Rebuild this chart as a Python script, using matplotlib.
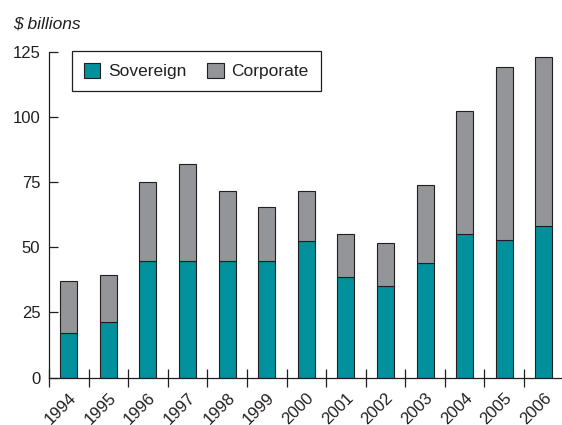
import matplotlib
matplotlib.use("Agg")
import matplotlib.pyplot as plt
import numpy as np

years = ["1994", "1995", "1996", "1997", "1998", "1999", "2000",
         "2001", "2002", "2003", "2004", "2005", "2006"]
sovereign = [17.2, 21.3, 44.8, 44.8, 44.7, 44.6, 52.3, 38.6, 35.0, 44.1, 55.2, 52.8, 58.1]
total = [37.1, 39.4, 75.0, 81.8, 71.7, 65.3, 71.4, 55.1, 51.5, 73.9, 102.4, 119.1, 122.9]
corporate = [t - s for t, s in zip(total, sovereign)]
yticks = [0, 25, 50, 75, 100, 125]

teal = "#00919c"
gray = "#939598"
dark = "#231f20"

plt.rcParams['font.family'] = ['Liberation Sans', 'DejaVu Sans']

fig = plt.figure(figsize=(5.62, 4.25), dpi=100)
ax = fig.add_axes([49 / 562, (425 - 377.5) / 425, 1 - 49 / 562, 325.8 / 425])

x = np.arange(len(years))
w = 0.43
ax.bar(x, sovereign, width=w, color=teal, edgecolor=dark, linewidth=0.8,
       label="Sovereign", zorder=2)
ax.bar(x, corporate, width=w, bottom=sovereign, color=gray, edgecolor=dark,
       linewidth=0.8, label="Corporate", zorder=2)

ax.set_xlim(-0.5, 12.46)
ax.set_ylim(0, 125)

ax.spines['top'].set_visible(False)
ax.spines['right'].set_visible(False)
for s in ['left', 'bottom']:
    ax.spines[s].set_color(dark)
    ax.spines[s].set_linewidth(0.9)

ax.set_yticks(yticks)
ax.set_yticklabels([str(v) for v in yticks])
ax.tick_params(axis='y', direction='in', length=6.7, width=0.9, color=dark,
               labelsize=12, pad=6.2, labelcolor=dark)

ax.set_xticks(x)
ax.set_xticklabels(years, rotation=45, ha='right', va='top', rotation_mode='anchor')
ax.tick_params(axis='x', which='major', length=0, labelsize=12, pad=9, labelcolor=dark)
ax.set_xticks(np.arange(-0.5, 12.0, 1.0), minor=True)
ax.tick_params(axis='x', which='minor', direction='inout', length=13, width=0.9, color=dark)

leg = ax.legend(loc='upper left', bbox_to_anchor=(0.044, 1.003), borderaxespad=0,
                ncol=2, fancybox=False, framealpha=1, edgecolor=dark, fontsize=12.5,
                handlelength=0.95, handleheight=0.95, handletextpad=0.45,
                columnspacing=1.2, borderpad=0.7)
leg.get_frame().set_linewidth(0.9)
for t in leg.get_texts():
    t.set_color(dark)

fig.text(13 / 562, 1 - 28 / 425, "$ billions", fontsize=12.5, style='italic',
         color=dark, va='baseline', ha='left')

fig.savefig("out.png", dpi=100)
